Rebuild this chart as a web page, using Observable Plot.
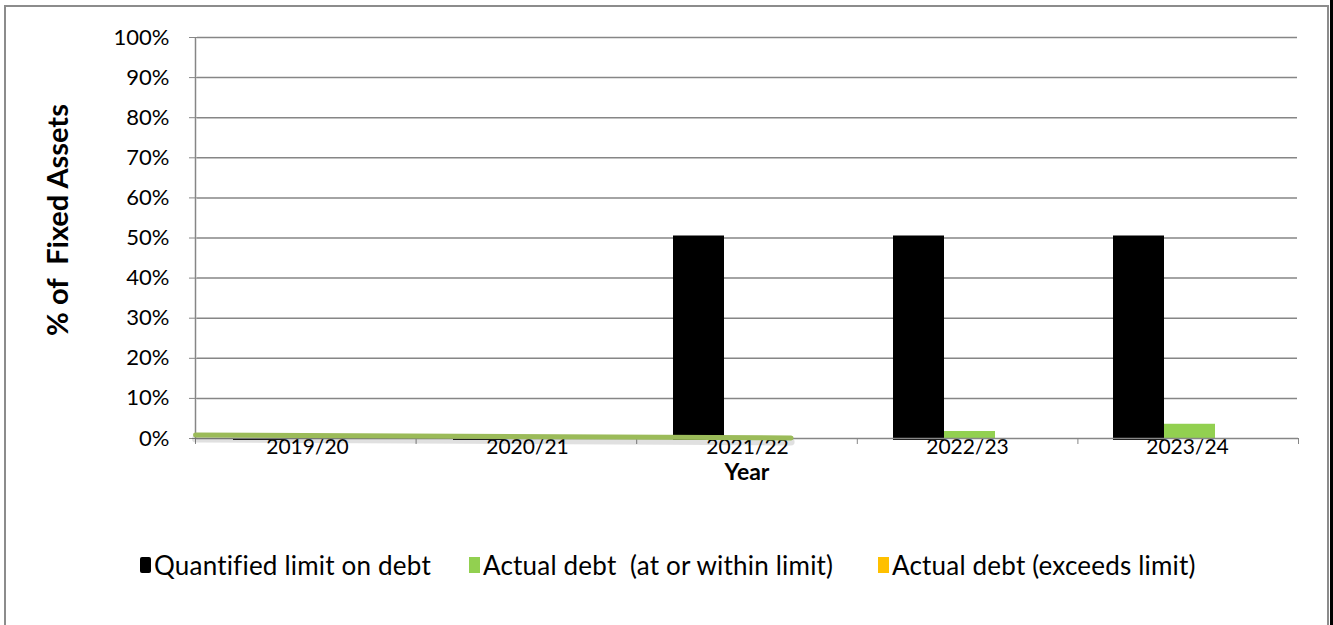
<!DOCTYPE html>
<html><head><meta charset="utf-8">
<script src="https://cdn.jsdelivr.net/npm/d3@7"></script>
<script src="https://cdn.jsdelivr.net/npm/@observablehq/plot@0.6"></script>
<style>
body{margin:0;background:#fff;}
#wrap{position:relative;width:1333px;height:625px;overflow:hidden;font-family:Lato, "Open Sans", sans-serif;color:#000;}
#border{position:absolute;left:4px;top:5px;width:1325px;height:660px;border:2px solid #8c8c8c;border-bottom:none;box-sizing:border-box;}
#rightline{position:absolute;left:1330px;top:0;width:3px;height:625px;background:#000;}
.layer{position:absolute;left:0;top:0;}
#ytitle{position:absolute;left:56px;top:220px;transform:translate(-50%,-50%) rotate(-90deg);font-weight:bold;font-size:29px;white-space:pre;line-height:1;}
#xtitle{position:absolute;left:747px;top:471px;transform:translate(-50%,-50%);font-weight:bold;font-size:23px;line-height:1;}
#legend{position:absolute;top:551px;left:0;width:1333px;height:28px;font-size:26px;white-space:pre;letter-spacing:0.2px;}
.item{position:absolute;top:0;display:flex;align-items:center;height:28px;}
.sw{display:inline-block;width:11px;height:16px;margin-right:3px;}
</style>
</head><body>
<div id="wrap">
  <div id="border"></div>
  <div id="rightline"></div>
  <div id="main" class="layer"></div>
  <div id="overlay" class="layer"></div>
  <div id="ytitle">% of  Fixed Assets</div>
  <div id="xtitle">Year</div>
  <div id="legend"></div>
</div>
<script>
// ---- data ----
const years = ["2019/20", "2020/21", "2021/22", "2022/23", "2023/24"];
const seriesNames = ["Quantified limit on debt", "Actual debt  (at or within limit)", "Actual debt (exceeds limit)"];
const limitValues = [0, 0, 50.5, 50.5, 50.5];
const withinValues = [0, 0, 0, 1.75, 3.55];
const exceedsValues = [0, 0, 0, 0, 0];
const seriesColors = ["#000000", "#92D050", "#FFC000"];
const yTicks = [0, 10, 20, 30, 40, 50, 60, 70, 80, 90, 100];
// stray drawn line shape over the first years (position in category units, value in %)
const shapeLinePos = [0, 2.7];
const shapeLineValue = [0.9, 0.15];

const legendX = [140, 469, 878];

// ---- build ----
const seriesValues = [limitValues, withinValues, exceedsValues];
const rows = years.flatMap((y, i) => seriesNames.map((s, j) => ({year: y, series: s, value: seriesValues[j][i]})));
const shapeLine = shapeLinePos.map((p, i) => ({pos: p, value: shapeLineValue[i]}));
const boundaries = d3.range(0, years.length + 1);

const W = 1333, H = 480, ML = 195, MR = 35, MT = 37, MB = 42;
const gray = "#868686";

const main = Plot.plot({
  width: W, height: H, marginLeft: ML, marginRight: MR, marginTop: MT, marginBottom: MB,
  style: {fontFamily: "Lato, 'Open Sans', sans-serif", fontSize: "21px", color: "#000", background: "transparent", overflow: "visible"},
  fx: {domain: years, padding: 0, label: null},
  x: {domain: seriesNames, paddingInner: 0, paddingOuter: 0.62, align: 0.54, axis: null},
  y: {domain: [0, 100], label: null},
  color: {domain: seriesNames, range: seriesColors},
  marks: [
    Plot.ruleY(yTicks.filter(t => t > 0), {stroke: gray, strokeWidth: 1.5}),
    Plot.barY(rows.filter(d => d.series === seriesNames[0]), {fx: "year", x: "series", y: "value", fill: "series", insetBottom: -2}),
    Plot.barY(rows.filter(d => d.series !== seriesNames[0]), {fx: "year", x: "series", y: "value", fill: "series"}),
    Plot.axisY({ticks: yTicks, tickFormat: d => d + "%", tickSize: 8, tickPadding: 20, stroke: gray, fill: "#000", fontSize: 22, label: null}),
    Plot.axisFx({anchor: "bottom", tickSize: 0, tickPadding: 1, label: null, fill: "#000", fontSize: 21})
  ]
});
document.getElementById("main").appendChild(main);

const overlay = Plot.plot({
  width: W, height: H, marginLeft: ML, marginRight: MR, marginTop: MT, marginBottom: MB,
  style: {background: "transparent", overflow: "visible"},
  x: {domain: [0, years.length]},
  y: {domain: [0, 100]},
  marks: [
    Plot.ruleX([0], {stroke: gray, strokeWidth: 1.5}),
    Plot.ruleY([0], {stroke: gray, strokeWidth: 1.5}),
    Plot.axisX({ticks: boundaries, tickSize: 6, tickFormat: () => "", stroke: gray, label: null}),
    Plot.axisY({ticks: [], label: null}),
    Plot.line(shapeLine, {x: "pos", y: "value", stroke: "#000", strokeOpacity: 0.12, strokeWidth: 7, dy: 4}),
    Plot.line(shapeLine, {x: "pos", y: "value", stroke: "#9BBB59", strokeWidth: 5})
  ]
});
document.getElementById("overlay").appendChild(overlay);

// legend
const legend = document.getElementById("legend");
seriesNames.forEach((s, i) => {
  const item = document.createElement("div");
  item.className = "item";
  item.style.left = legendX[i] + "px";
  const sw = document.createElement("span");
  sw.className = "sw";
  sw.style.background = seriesColors[i];
  if (i === 0) sw.style.borderRadius = "2px";
  const t = document.createElement("span");
  t.textContent = s;
  item.appendChild(sw); item.appendChild(t);
  legend.appendChild(item);
});
</script>
</body></html>
